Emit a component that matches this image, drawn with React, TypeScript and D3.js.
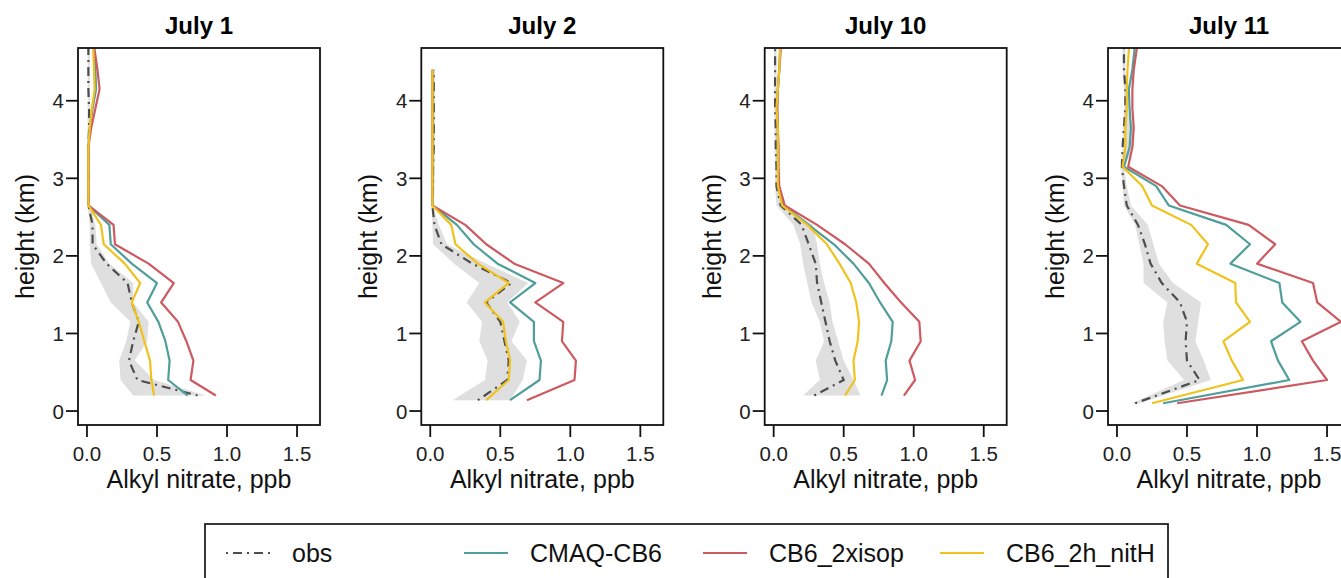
import React from 'react';
import * as d3 from 'd3';

// ---------- data ----------
const panelTitles = ['July 1', 'July 2', 'July 10', 'July 11'];
const seriesNames = ['obs', 'CMAQ-CB6', 'CB6_2xisop', 'CB6_2h_nitH'];
const seriesColors = ['#4d4d4d', '#4f9e9a', '#cd5a60', '#f0c21e'];

// altitude bins (km) above the lowest one; lowest bin differs per flight
const binHeights = [0.4, 0.65, 0.9, 1.15, 1.4, 1.65, 1.9, 2.15, 2.4, 2.65, 2.9, 3.15, 3.4, 3.65, 3.9, 4.15, 4.4, 4.65, 4.9];
const lowestHeights = [0.2, 0.14, 0.2, 0.1];

const xTicks = [0, 0.5, 1.0, 1.5];
const yTicks = [0, 1, 2, 3, 4];

// July 1
const jul1Obs = [0.79, 0.36, 0.30, 0.33, 0.37, 0.32, 0.29, 0.14, 0.04, 0.04, 0.01, 0.01, 0.01, 0.01, 0.015, 0.015, 0.01, 0.01, 0.01, 0.01];
const jul1Low = [0.33, 0.24, 0.23, 0.28, 0.31, 0.17, 0.10, 0.03, 0.02, 0.02, 0.005, 0.005, 0.005, 0.005, 0.005, 0.005, 0.005, 0.005, 0.005, 0.005];
const jul1High = [0.85, 0.48, 0.34, 0.43, 0.44, 0.33, 0.33, 0.16, 0.07, 0.06, 0.02, 0.02, 0.02, 0.02, 0.025, 0.025, 0.02, 0.02, 0.02, 0.02];
const jul1Cmaq = [0.72, 0.58, 0.59, 0.56, 0.51, 0.43, 0.50, 0.32, 0.17, 0.16, 0.01, 0.01, 0.01, 0.01, 0.02, 0.04, 0.065, 0.06, 0.05, 0.05];
const jul1Isop = [0.92, 0.74, 0.76, 0.71, 0.65, 0.53, 0.62, 0.44, 0.20, 0.19, 0.01, 0.01, 0.01, 0.01, 0.03, 0.06, 0.09, 0.075, 0.055, 0.05];
const jul1NitH = [0.48, 0.46, 0.45, 0.41, 0.37, 0.32, 0.38, 0.27, 0.12, 0.10, 0.01, 0.01, 0.01, 0.01, 0.02, 0.035, 0.055, 0.05, 0.045, 0.045];

// July 2
const jul2Obs = [0.34, 0.55, 0.56, 0.53, 0.50, 0.40, 0.58, 0.30, 0.08, 0.03, 0.015, 0.02, 0.02, 0.025, 0.025, 0.025, 0.025, 0.025];
const jul2Low = [0.16, 0.39, 0.41, 0.35, 0.37, 0.26, 0.35, 0.17, 0.02, 0.015, 0.01, 0.01, 0.01, 0.015, 0.015, 0.015, 0.015, 0.015];
const jul2High = [0.57, 0.66, 0.69, 0.58, 0.64, 0.55, 0.70, 0.40, 0.12, 0.06, 0.02, 0.03, 0.03, 0.035, 0.035, 0.035, 0.035, 0.035];
const jul2Cmaq = [0.57, 0.78, 0.79, 0.74, 0.74, 0.57, 0.75, 0.48, 0.31, 0.19, 0.015, 0.015, 0.015, 0.015, 0.015, 0.015, 0.015, 0.015];
const jul2Isop = [0.69, 1.03, 1.04, 0.94, 0.95, 0.75, 0.95, 0.60, 0.40, 0.25, 0.015, 0.015, 0.015, 0.015, 0.015, 0.015, 0.015, 0.015];
const jul2NitH = [0.40, 0.56, 0.57, 0.54, 0.52, 0.39, 0.56, 0.34, 0.18, 0.15, 0.015, 0.015, 0.015, 0.015, 0.015, 0.015, 0.015, 0.015];

// July 10
const jul10Obs = [0.29, 0.50, 0.44, 0.40, 0.37, 0.34, 0.31, 0.30, 0.25, 0.20, 0.05, 0.02, 0.02, 0.015, 0.015, 0.01, 0.01, 0.01, 0.01, 0.01];
const jul10Low = [0.21, 0.33, 0.30, 0.36, 0.33, 0.27, 0.24, 0.21, 0.19, 0.14, 0.02, 0.01, 0.01, 0.005, 0.005, 0.005, 0.005, 0.005, 0.005, 0.005];
const jul10High = [0.62, 0.57, 0.50, 0.46, 0.42, 0.40, 0.36, 0.33, 0.31, 0.28, 0.08, 0.04, 0.03, 0.025, 0.025, 0.02, 0.02, 0.02, 0.02, 0.02];
const jul10Cmaq = [0.77, 0.81, 0.80, 0.84, 0.85, 0.76, 0.68, 0.57, 0.43, 0.25, 0.07, 0.035, 0.03, 0.03, 0.03, 0.025, 0.03, 0.04, 0.045, 0.045];
const jul10Isop = [0.93, 1.01, 0.97, 1.05, 1.04, 0.91, 0.79, 0.68, 0.51, 0.31, 0.08, 0.04, 0.035, 0.035, 0.03, 0.025, 0.03, 0.04, 0.05, 0.05];
const jul10NitH = [0.51, 0.58, 0.57, 0.60, 0.61, 0.59, 0.55, 0.47, 0.38, 0.24, 0.06, 0.03, 0.03, 0.03, 0.03, 0.02, 0.03, 0.04, 0.045, 0.045];

// July 11
const jul11Obs = [0.13, 0.59, 0.50, 0.49, 0.50, 0.45, 0.32, 0.24, 0.20, 0.15, 0.07, 0.05, 0.035, 0.04, 0.05, 0.06, 0.06, 0.05, 0.05, 0.05];
const jul11Low = [0.11, 0.48, 0.36, 0.34, 0.33, 0.36, 0.19, 0.19, 0.16, 0.13, 0.05, 0.04, 0.03, 0.04, 0.04, 0.05, 0.05, 0.04, 0.04, 0.04];
const jul11High = [0.16, 0.67, 0.62, 0.56, 0.58, 0.60, 0.40, 0.30, 0.26, 0.22, 0.10, 0.07, 0.05, 0.12, 0.12, 0.07, 0.07, 0.06, 0.06, 0.06];
const jul11Cmaq = [0.33, 1.23, 1.15, 1.10, 1.31, 1.18, 1.16, 0.81, 0.95, 0.78, 0.37, 0.28, 0.05, 0.09, 0.10, 0.09, 0.085, 0.11, 0.125, 0.125];
const jul11Isop = [0.43, 1.50, 1.40, 1.32, 1.60, 1.43, 1.40, 1.00, 1.13, 0.94, 0.45, 0.32, 0.08, 0.11, 0.12, 0.11, 0.11, 0.12, 0.14, 0.14];
const jul11NitH = [0.25, 0.90, 0.82, 0.76, 0.95, 0.85, 0.845, 0.57, 0.65, 0.53, 0.25, 0.18, 0.04, 0.06, 0.06, 0.07, 0.07, 0.075, 0.085, 0.085];

const panelObs = [jul1Obs, jul2Obs, jul10Obs, jul11Obs];
const panelLow = [jul1Low, jul2Low, jul10Low, jul11Low];
const panelHigh = [jul1High, jul2High, jul10High, jul11High];
const panelModels = [
  [jul1Cmaq, jul1Isop, jul1NitH],
  [jul2Cmaq, jul2Isop, jul2NitH],
  [jul10Cmaq, jul10Isop, jul10NitH],
  [jul11Cmaq, jul11Isop, jul11NitH],
];

// ---------- layout ----------
const W = 1341;
const H = 578;
const FONT = '"Liberation Sans", Arial, Helvetica, sans-serif';
const boxW = 242;
const boxTop = 48;
const boxBottom = 425;
const panelLefts = [78, 421.3, 764.7, 1108];
const obsDash = '2,5,9,5';

type Pt = { h: number; v: number; lo?: number; hi?: number };

function Panel({ i }: { i: number }) {
  const left = panelLefts[i];
  const x = d3.scaleLinear().domain([-0.064, 1.664]).range([left, left + boxW]);
  const y = d3.scaleLinear().domain([-0.18, 4.68]).range([boxBottom, boxTop]);
  const heights = [lowestHeights[i], ...binHeights];
  const obs = panelObs[i];
  const pts = (vals: number[]): Pt[] => vals.map((v, k) => ({ h: heights[k], v }));
  const bandPts: Pt[] = obs.map((v, k) => ({ h: heights[k], v, lo: panelLow[i][k], hi: panelHigh[i][k] }));
  const line = d3.line<Pt>().x(d => x(d.v)).y(d => y(d.h));
  const area = d3.area<Pt>().y(d => y(d.h)).x0(d => x(d.lo as number)).x1(d => x(d.hi as number));
  const clipId = `clip${i}`;
  const cx = left + boxW / 2;
  return (
    <g>
      <defs>
        <clipPath id={clipId}>
          <rect x={left} y={boxTop} width={boxW} height={boxBottom - boxTop} />
        </clipPath>
      </defs>
      <text x={cx} y={34} textAnchor="middle" fontFamily={FONT} fontWeight="bold" fontSize={24}>{panelTitles[i]}</text>
      <g clipPath={`url(#${clipId})`}>
        <path d={area(bandPts) || ''} fill="#dcdcdc" stroke="none" opacity={0.9} />
        <path d={line(pts(obs)) || ''} fill="none" stroke={seriesColors[0]} strokeWidth={2.2} strokeDasharray={obsDash} />
        {panelModels[i].map((vals, s) => (
          <path key={s} d={line(pts(vals)) || ''} fill="none" stroke={seriesColors[s + 1]} strokeWidth={2.2} strokeLinejoin="round" />
        ))}
      </g>
      <rect x={left} y={boxTop} width={boxW} height={boxBottom - boxTop} fill="none" stroke="#111" strokeWidth={1.8} />
      {xTicks.map(t => (
        <g key={`x${t}`}>
          <line x1={x(t)} x2={x(t)} y1={boxBottom} y2={boxBottom + 12} stroke="#111" strokeWidth={1.8} />
          <text x={x(t)} y={461} textAnchor="middle" fontFamily={FONT} fontSize={20.5} fill="#222">{t.toFixed(1)}</text>
        </g>
      ))}
      {yTicks.map(t => (
        <g key={`y${t}`}>
          <line x1={left - 12} x2={left} y1={y(t)} y2={y(t)} stroke="#111" strokeWidth={1.8} />
          <text x={left - 14} y={y(t) + 7.5} textAnchor="end" fontFamily={FONT} fontSize={20.5} fill="#222">{t}</text>
        </g>
      ))}
      <text x={cx} y={488} textAnchor="middle" fontFamily={FONT} fontSize={25} fill="#111">Alkyl nitrate, ppb</text>
      <text transform={`translate(${left - 44},${(boxTop + boxBottom) / 2}) rotate(-90)`} textAnchor="middle" fontFamily={FONT} fontSize={25} fill="#111">height (km)</text>
    </g>
  );
}

const legendItemX = [226, 464, 703, 940];

function Legend() {
  const yc = 553;
  return (
    <g>
      <rect x={205} y={524} width={963} height={80} fill="none" stroke="#222" strokeWidth={1.8} />
      {seriesNames.map((name, s) => (
        <g key={name}>
          <line x1={legendItemX[s]} x2={legendItemX[s] + 44} y1={yc} y2={yc} stroke={seriesColors[s]} strokeWidth={2}
            strokeDasharray={s === 0 ? obsDash : undefined} />
          <text x={legendItemX[s] + 66} y={yc + 9} fontFamily={FONT} fontSize={25} fill="#111">{name}</text>
        </g>
      ))}
    </g>
  );
}

export default function App() {
  return (
    <svg width={W} height={H} style={{ position: 'absolute', left: 0, top: 0, background: '#fff' }}>
      <rect x={0} y={0} width={W} height={H} fill="#fff" />
      {panelTitles.map((_, i) => <Panel key={i} i={i} />)}
      <Legend />
    </svg>
  );
}
